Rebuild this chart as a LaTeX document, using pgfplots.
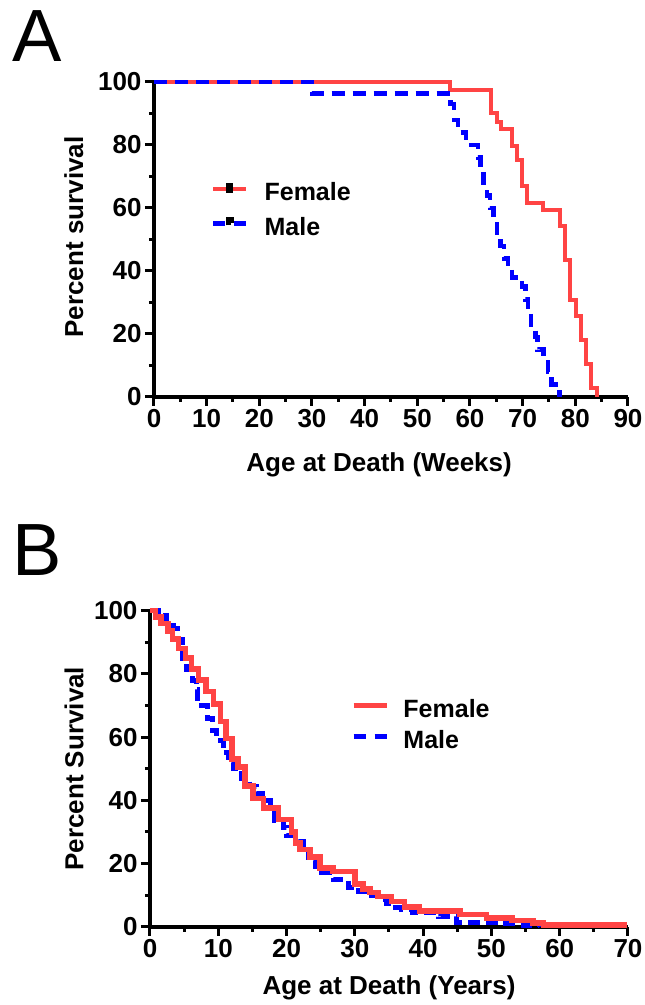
\documentclass[border=0pt]{standalone}
\usepackage{fontspec}
\setmainfont{Liberation Sans}
\usepackage{pgfplots}
\pgfplotsset{compat=1.18}
\definecolor{pred}{RGB}{255,68,68}
\definecolor{pblue}{RGB}{0,0,255}
\newcommand{\tickfont}{\fontsize{26}{28}\selectfont\bfseries}
\newcommand{\labfont}{\fontsize{26}{28}\selectfont\bfseries}
\newcommand{\legfont}{\fontsize{25}{27}\selectfont\bfseries}

\pgfplotsset{
 survstyle/.style={
  scale only axis,
  axis lines*=left,
  axis line style={line width=4pt, black},
  tick align=outside,
  major tick length=9pt,
  minor tick length=5pt,
  tick style={black, line width=3pt},
  tick label style={font=\tickfont},
  /pgf/number format/assume math mode=true,
  minor x tick num=1, minor y tick num=1,
  ymin=0, ymax=100, ytick={0,20,...,100},
  label style={font=\labfont},
  clip=false,
  legend cell align=left,
  legend style={draw=none, fill=none, font=\legfont, inner sep=0pt},
 }
}

\pgfplotstableread{
t s
0 100
56.2 97.4
64.0 90.0
65.1 87.3
65.9 85.0
67.9 79.7
68.9 75.1
69.8 67.1
70.9 61.6
73.9 59.4
77.0 54.2
78.0 43.6
78.9 30.7
80.1 25.8
81.1 18.2
82.1 10.4
83.0 3.0
84.1 0
}\femaleA

\pgfplotstableread{
t s
0 100
30.0 96.4
56.3 93
57.0 88
57.7 84
59.2 80
61.5 76
62.0 72
62.6 68
63.2 64
63.8 60
64.5 56
65.1 52
65.8 48
66.5 44
67.2 41
68.0 38
69.9 35
70.5 31
71.0 27
71.6 23
72.4 19
72.8 15
74.0 12
74.8 8
75.5 4
77.0 0
}\maleA

\pgfplotstableread{
t s
0 100
0.8 98
1.6 96
2.6 93.5
3.3 91
4.2 88
5.2 85
6.1 81.5
7.1 78
8.2 74.5
9.3 70.5
10.3 65
11.1 59.5
12.0 53
12.9 50.5
13.9 44.5
15.1 40.5
16.6 37.5
18.8 34
20.7 30
21.3 26.5
22.0 24.5
23.4 22
24.9 18.5
26.8 17.5
30.0 13.5
31.2 12
32.2 10.8
33.4 9.5
35.4 8
37.3 6.3
39.5 5
45.4 3.8
49.3 2.8
53.0 1.9
56.1 1.1
57.6 0.5
69.8 0.5
}\femaleB

\pgfplotstableread{
t s
0 100
1.2 98.5
2.4 96.5
3.4 94.5
4.0 91
4.7 85
5.4 81.5
6.2 78
6.8 75
7.0 70
8.4 66
9.2 62
9.8 59
10.7 55
11.5 52
12.2 50
13.4 47
14.5 44.5
15.6 42
16.5 40
17.6 37.5
18.3 33.5
19.5 31.5
20.0 29
21.7 27
22.5 24
23.2 21
24.2 19
25.1 17
26.8 15
29.0 12.5
30.5 11
31.5 9.8
33.5 8.5
34.6 7.4
36.0 6.2
36.9 5.3
38.5 4.5
42.2 3.2
44.9 1.4
51.5 0.9
54.7 0.5
57.0 0
}\maleB

\begin{document}
\begin{tikzpicture}
\path[use as bounding box] (0,0) rectangle (645pt,1005pt);
\node[inner sep=0pt, font=\fontsize{74}{74}\selectfont] at (37pt,968.5pt) {A};
\node[inner sep=0pt, font=\fontsize{74}{74}\selectfont] at (37.5pt,455pt) {B};

% Panel A
\begin{axis}[survstyle,
  at={(154pt,608pt)}, anchor=south west,
  width=474pt, height=315pt,
  xmin=0, xmax=90, xtick={0,10,...,90},
  xlabel={Age at Death (Weeks)},
  ylabel={Percent survival},
  xlabel style={at={(axis description cs:0.475,-0.216)}, anchor=center},
  ylabel style={at={(axis description cs:-0.169,0.508)}, anchor=center},
  legend style={at={(axis cs:10.8,59.5)}, anchor=west, row sep=11pt,
    /tikz/every odd column/.style={column sep=14pt}},
]
\addplot[const plot, pred, line width=4pt,
  legend image code/.code={
    \draw[pred, line width=4pt] (0pt,0.36em)--(33pt,0.36em);
    \fill[black] (15pt,0.36em-2pt) rectangle (18pt,0.36em+4pt);}]
  table[x=t,y=s] {\femaleA};
\addlegendentry{Female}
\addplot[const plot, pblue, line width=4.5pt, dash pattern=on 13pt off 8pt,
  legend image code/.code={
    \draw[pblue, line width=4.5pt] (0pt,0.36em)--(12pt,0.36em) (21pt,0.36em)--(33pt,0.36em);
    \fill[black] (15pt,0.36em-2pt) rectangle (18pt,0.36em+4pt);}]
  table[x=t,y=s] {\maleA};
\addlegendentry{Male}
\end{axis}

% Panel B
\begin{axis}[survstyle,
  at={(150pt,78.3pt)}, anchor=south west,
  width=478pt, height=316pt,
  xmin=0, xmax=70, xtick={0,10,...,70},
  xlabel={Age at Death (Years)},
  ylabel={Percent Survival},
  xlabel style={at={(axis description cs:0.5,-0.194)}, anchor=center},
  ylabel style={at={(axis description cs:-0.159,0.5)}, anchor=center},
  legend style={at={(axis cs:29.4,64.0)}, anchor=west, row sep=7pt,
    /tikz/every odd column/.style={column sep=12pt}},
  reverse legend,
]
\addplot[const plot, pblue, line width=5pt, dash pattern=on 12pt off 6pt,
  legend image code/.code={
    \draw[pblue, line width=5pt] (0pt,0.36em)--(15pt,0.36em) (21pt,0.36em)--(33pt,0.36em);}]
  table[x=t,y=s] {\maleB};
\addlegendentry{Male}
\addplot[const plot, pred, line width=5.5pt,
  legend image code/.code={
    \draw[pred, line width=5.5pt] (0pt,0.36em)--(33pt,0.36em);}]
  table[x=t,y=s] {\femaleB};
\addlegendentry{Female}
\end{axis}
\end{tikzpicture}
\end{document}
